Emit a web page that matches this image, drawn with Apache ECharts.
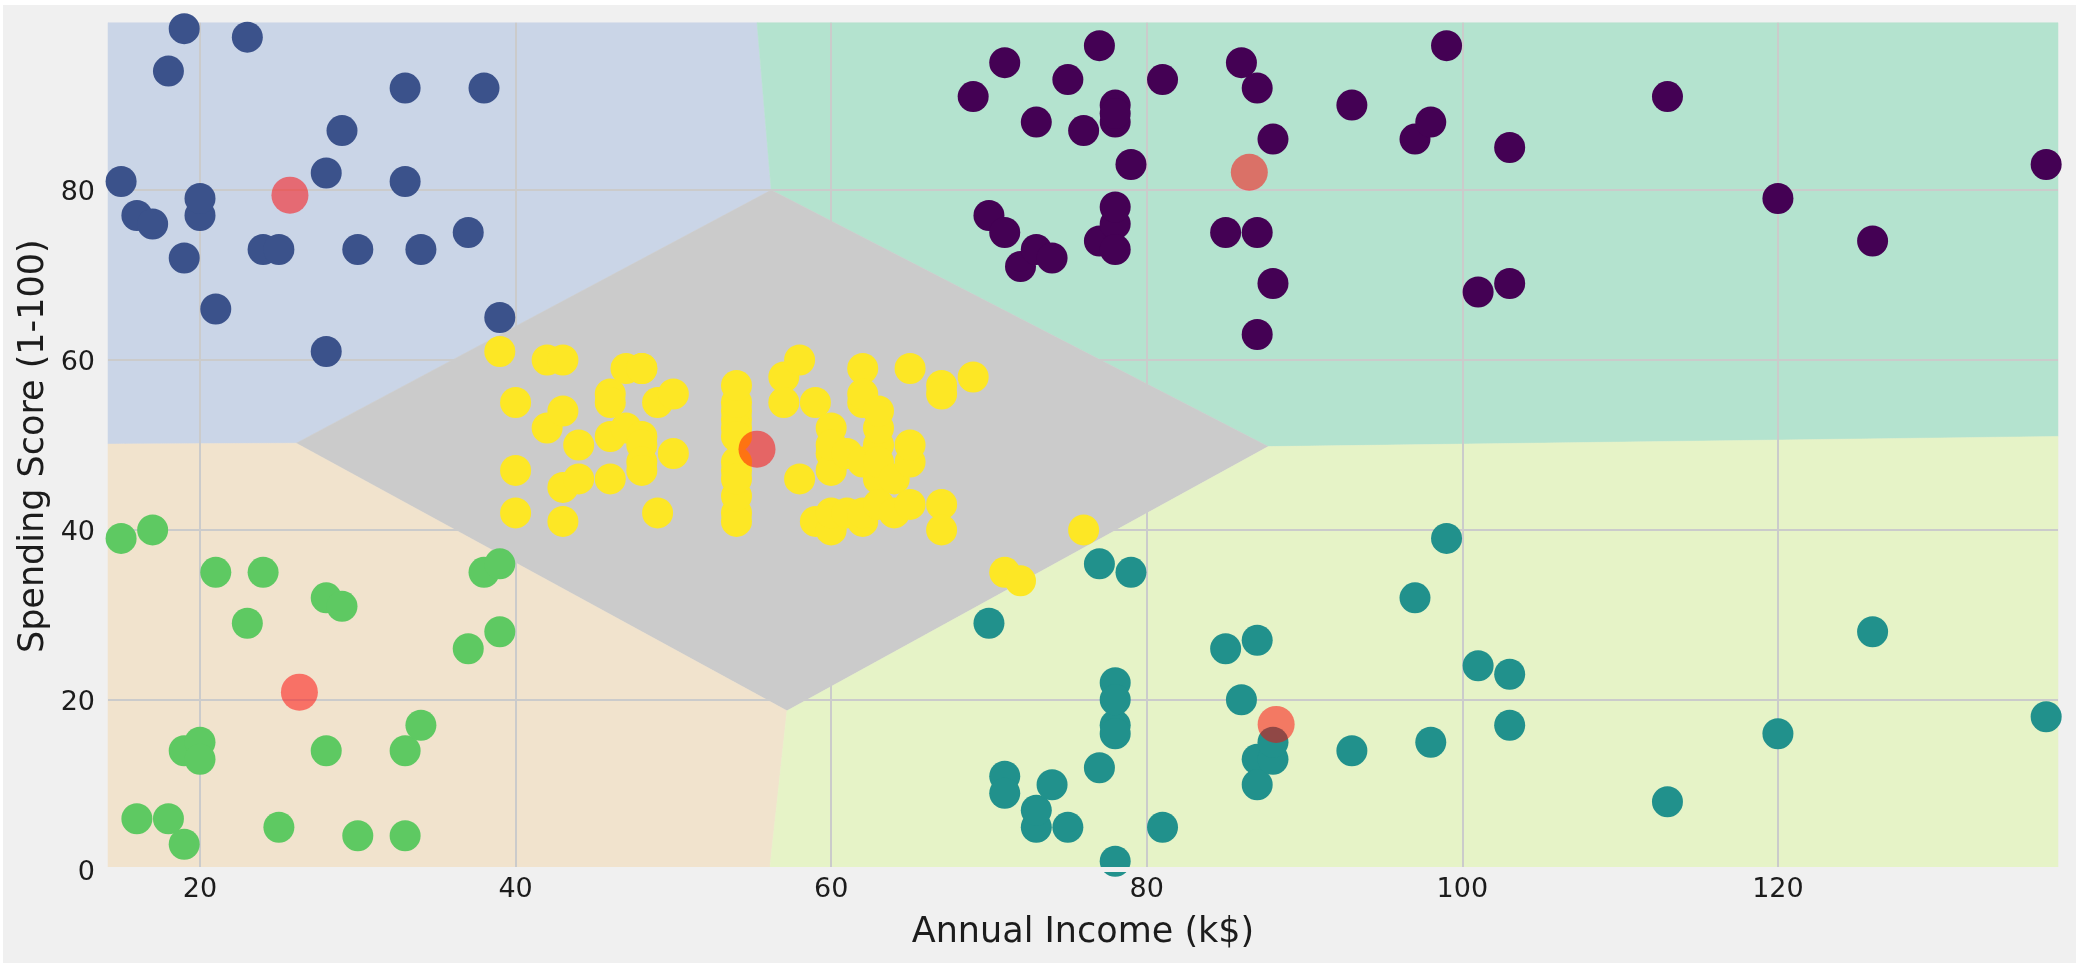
<!DOCTYPE html>
<html>
<head>
<meta charset="utf-8">
<script src="https://cdn.jsdelivr.net/npm/echarts@6/dist/echarts.min.js"></script>
<style>
html,body{margin:0;padding:0;background:#fff;width:2082px;height:963px;overflow:hidden}
#c{position:absolute;left:3px;top:5px;width:2073px;height:958px}
</style>
</head>
<body>
<div id="c"></div>
<script>
const xTicks = [20, 40, 60, 80, 100, 120];
const yTicks = [0, 20, 40, 60, 80];
const xLabel = 'Annual Income (k$)';
const yLabel = 'Spending Score (1-100)';
const xMin = 14.17, xMax = 137.75, yMin = 0, yMax = 99.7;

const regionBlue = [[xMin,99.7],[55.3,99.7],[56.2,80],[26.1,50.2],[xMin,50.1]];
const regionGreen = [[55.3,99.7],[xMax,99.7],[xMax,51],[87.7,49.8],[56.2,80]];
const regionGray = [[26.1,50.2],[56.2,80],[87.7,49.8],[57.2,18.7]];
const regionTan = [[xMin,50.1],[26.1,50.2],[57.2,18.7],[56.1,0],[xMin,0]];
const regionLime = [[57.2,18.7],[87.7,49.8],[xMax,51],[xMax,0],[56.1,0]];

const purpleX = [69,70,71,71,72,73,73,74,75,76,77,77,78,78,78,78,78,78,79,81,85,86,87,87,87,88,88,93,97,98,99,101,103,103,113,120,126,137];
const purpleY = [91,77,95,75,71,88,73,72,93,87,97,74,90,88,76,89,78,73,83,93,75,95,63,75,92,86,69,90,86,88,97,68,85,69,91,79,74,83];
const tealX = [70,71,71,73,73,74,75,77,77,78,78,78,78,78,79,81,85,86,87,87,87,88,88,93,97,98,99,101,103,103,113,120,126,137];
const tealY = [29,11,9,5,7,10,5,12,36,22,17,20,16,1,35,5,26,20,27,13,10,13,15,14,32,15,39,24,17,23,8,16,28,18];
const blueX = [15,16,17,18,19,19,20,20,21,23,24,25,28,28,29,30,33,33,34,37,38,39];
const blueY = [81,77,76,94,72,99,77,79,66,98,73,73,82,61,87,73,92,81,73,75,92,65];
const greenX = [15,16,17,18,19,19,20,20,21,23,24,25,28,28,29,30,33,33,34,37,38,39,39];
const greenY = [39,6,40,6,3,14,15,13,35,29,35,5,14,32,31,4,4,14,17,26,35,36,28];
const yellowX = [39,40,40,40,42,42,43,43,43,43,44,44,46,46,46,46,47,47,48,48,48,48,48,48,49,49,50,50,54,54,54,54,54,54,54,54,54,54,54,54,57,57,58,58,59,59,60,60,60,60,60,60,61,61,62,62,62,62,62,62,63,63,63,63,63,63,64,64,65,65,65,65,67,67,67,67,69,71,72,76];
const yellowY = [61,55,47,42,52,60,54,60,45,41,50,46,51,46,56,55,52,59,51,59,50,48,59,47,55,42,49,56,47,54,53,48,52,42,51,55,41,44,57,46,58,55,60,46,55,41,49,40,42,52,47,50,42,49,41,48,59,55,56,42,50,46,43,48,52,54,42,46,48,50,43,59,43,57,56,40,58,35,34,40];
const centroidX = [86.5,25.7,55.3,88.2,26.3];
const centroidY = [82.1,79.4,49.5,17.1,20.9];

const zip = (a, b) => a.map((v, i) => [v, b[i]]);
const polygon = (pts, color) => ({
  type: 'custom', coordinateSystem: 'cartesian2d', silent: true, z: -1,
  data: [[pts[0][0], pts[0][1]]],
  renderItem: (p, api) => ({
    type: 'polygon',
    shape: { points: pts.map(q => api.coord(q)) },
    style: { fill: color, stroke: color, lineWidth: 0.5 }
  })
});
const dots = (xs, ys, color) => ({
  type: 'scatter', data: zip(xs, ys), symbolSize: 31, silent: true,
  itemStyle: { color: color, opacity: 1 }
});
const textColor = '#1c1c1c';
const chart = echarts.init(document.getElementById('c'));
chart.setOption({
  animation: false,
  backgroundColor: '#f0f0f0',
  textStyle: { fontFamily: 'DejaVu Sans' },
  grid: { left: 105, top: 17.7, width: 1950, height: 847, outerBoundsMode: 'none', containLabel: false },
  graphic: [{ type: 'rect', z: 100, silent: true, shape: { x: 104, y: 862, width: 1952, height: 5 }, style: { fill: '#f0f0f0' } }],
  xAxis: {
    type: 'value', min: xMin, max: xMax,
    name: xLabel, nameLocation: 'middle', nameGap: 46, nameMoveOverlap: false,
    nameTextStyle: { fontSize: 35, color: textColor, fontFamily: 'DejaVu Sans' },
    axisLine: { show: false },
    axisTick: { show: false, customValues: xTicks },
    axisLabel: { customValues: xTicks, fontSize: 27, color: textColor, margin: 7, fontFamily: 'DejaVu Sans' },
    splitLine: { show: true, lineStyle: { color: '#cbcbcb', width: 2 } }
  },
  yAxis: {
    type: 'value', min: yMin, max: yMax,
    name: yLabel, nameLocation: 'middle', nameGap: 57, nameMoveOverlap: false,
    nameTextStyle: { fontSize: 35, color: textColor, fontFamily: 'DejaVu Sans' },
    axisLine: { show: false },
    axisTick: { show: false, customValues: yTicks },
    axisLabel: { customValues: yTicks, fontSize: 27, color: textColor, margin: 13, verticalAlign: 'top', lineHeight: 6, fontFamily: 'DejaVu Sans' },
    splitLine: { show: true, lineStyle: { color: '#cbcbcb', width: 2 } }
  },
  series: [
    polygon(regionBlue, '#cad5e7'),
    polygon(regionGreen, '#b4e3cf'),
    polygon(regionGray, '#cbcbcb'),
    polygon(regionTan, '#f1e3cd'),
    polygon(regionLime, '#e6f3c7'),
    dots(purpleX, purpleY, '#440154'),
    dots(tealX, tealY, '#21918c'),
    dots(blueX, blueY, '#3b528b'),
    dots(greenX, greenY, '#5ec962'),
    dots(yellowX, yellowY, '#fde725'),
    { type: 'scatter', z: 5, silent: true, symbolSize: 37, data: zip(centroidX, centroidY),
      itemStyle: { color: '#ff0000', opacity: 0.5 } }
  ]
});
</script>
</body>
</html>
